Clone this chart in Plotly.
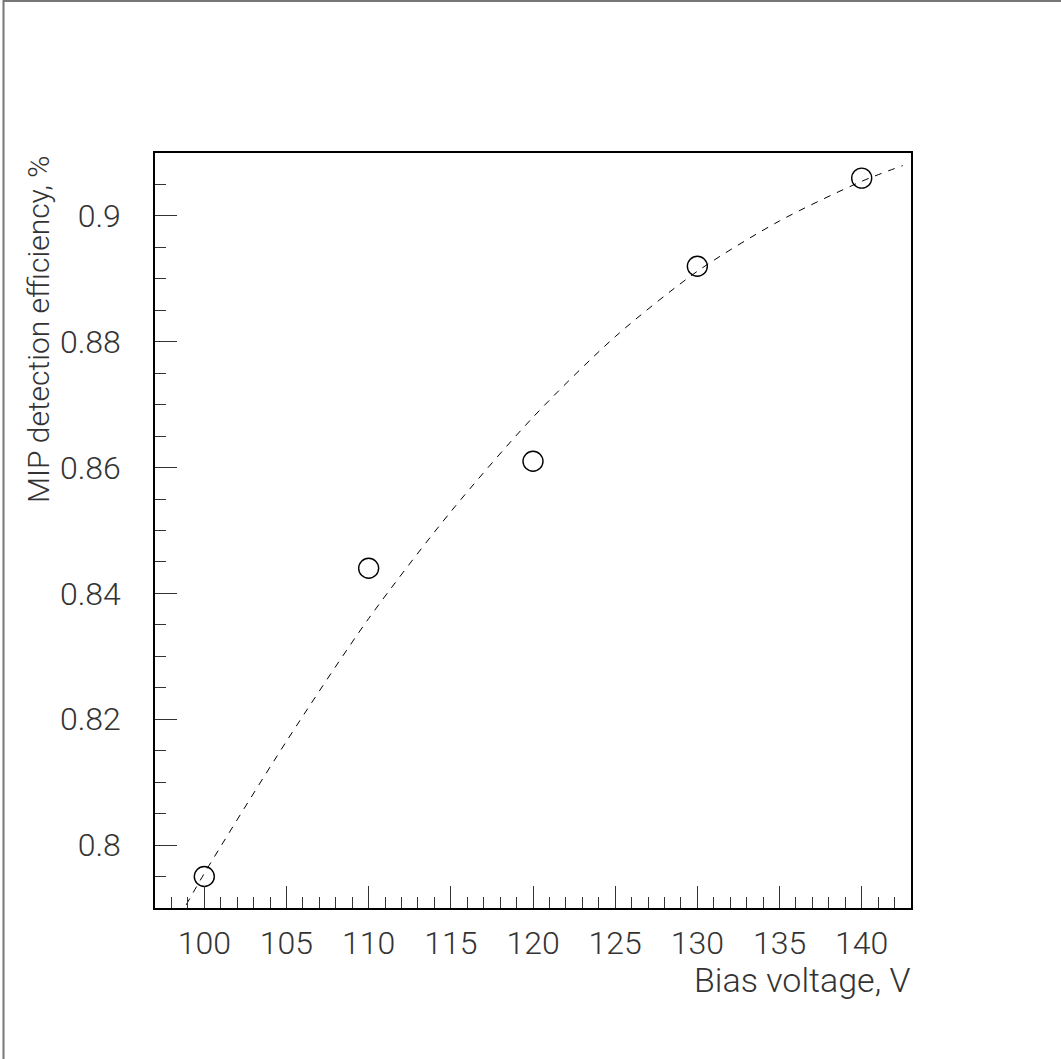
import plotly.graph_objects as go

# Measured points
bias_voltage = [100, 110, 120, 130, 140]
efficiency = [0.795, 0.844, 0.861, 0.892, 0.906]

# Fit curve
fit_voltage = [98.9, 100, 105, 110, 115, 120, 125, 130, 135, 140, 142.5]
fit_efficiency = [0.7905, 0.7955, 0.8165, 0.8360, 0.8530, 0.8680, 0.8808, 0.8912, 0.8992, 0.9055, 0.9080]

x_title = "Bias voltage, V"
y_title = "MIP detection efficiency, %"

FONT = "Roboto, 'Liberation Sans', sans-serif"
TXT = "#333333"

fig = go.Figure()
fig.add_trace(go.Scatter(
    x=fit_voltage, y=fit_efficiency, mode="lines",
    line=dict(color="black", width=1, dash="7px,7px", shape="spline", smoothing=0.8),
    showlegend=False, hoverinfo="skip",
))
fig.add_trace(go.Scatter(
    x=bias_voltage, y=efficiency, mode="markers",
    marker=dict(symbol="circle-open", size=20, color="black", line=dict(width=1.4, color="black")),
    showlegend=False,
))

W, H = 1061, 1059
L, R, T, B = 155, 150, 153, 151
pw, ph = W - L - R, H - T - B

fig.update_layout(
    width=W, height=H,
    margin=dict(l=L, r=R, t=T, b=B, pad=0, autoexpand=False),
    paper_bgcolor="white", plot_bgcolor="white",
    font=dict(family=FONT, size=30, color=TXT, weight=300),
    xaxis=dict(
        range=[97, 143], showgrid=False, zeroline=False, automargin=False,
        showline=True, linecolor="black", linewidth=1.5, mirror=True,
        ticks="inside", ticklen=22, tickwidth=1.2, tickcolor="#333",
        tick0=100, dtick=5,
        minor=dict(dtick=1, ticks="inside", ticklen=11, tickwidth=1.2, tickcolor="#333"),
        tickfont=dict(family=FONT, size=32, color=TXT, weight=300),
        ticklabelstandoff=6,
    ),
    yaxis=dict(
        range=[0.79, 0.91], showgrid=False, zeroline=False, automargin=False,
        showline=True, linecolor="black", linewidth=1.5, mirror=True,
        ticks="inside", ticklen=22, tickwidth=1.2, tickcolor="#333",
        tick0=0.8, dtick=0.02, tickformat=".2~f",
        minor=dict(dtick=0.005, ticks="inside", ticklen=11, tickwidth=1.2, tickcolor="#333"),
        tickfont=dict(family=FONT, size=32, color=TXT, weight=300),
        ticklabelstandoff=26,
    ),
    annotations=[
        dict(text=x_title, xref="paper", yref="paper",
             x=(912 - L) / pw, y=(H - B - 980) / ph, xanchor="right", yanchor="middle",
             showarrow=False, font=dict(family=FONT, size=34, color=TXT, weight=300)),
        dict(text=y_title, xref="paper", yref="paper", textangle=-90,
             x=(38 - L) / pw, y=1.0, xanchor="center", yanchor="top",
             showarrow=False, font=dict(family=FONT, size=30, color=TXT, weight=300)),
    ],
    shapes=[
        dict(type="line", xref="paper", yref="paper",
             x0=(3.5 - L) / pw, x1=(W - L) / pw, y0=(H - B - 1) / ph, y1=(H - B - 1) / ph,
             line=dict(color="#777777", width=2)),
        dict(type="line", xref="paper", yref="paper",
             x0=(3.5 - L) / pw, x1=(3.5 - L) / pw, y0=(H - B - 0) / ph, y1=(H - B - H) / ph,
             line=dict(color="#777777", width=2)),
    ],
)

fig.write_html("out.html")
